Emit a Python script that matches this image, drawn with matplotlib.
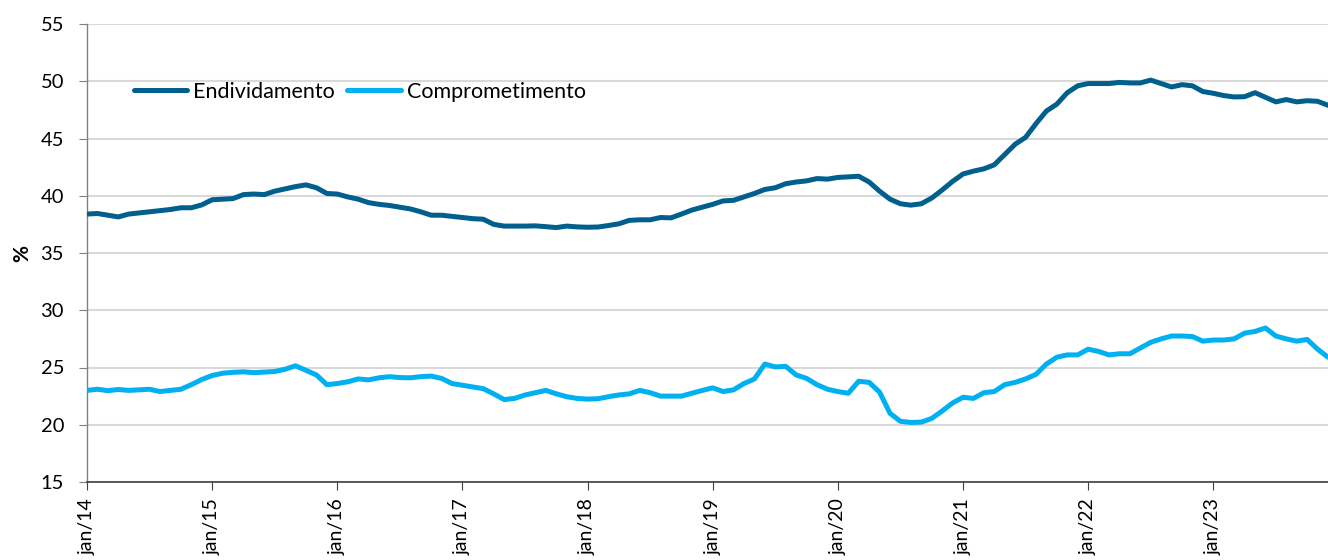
import matplotlib
matplotlib.use("Agg")
import matplotlib.pyplot as plt
import numpy as np

plt.rcParams['font.family'] = ['Lato', 'DejaVu Sans']

tick_labels = ["jan/14", "jan/15", "jan/16", "jan/17", "jan/18",
               "jan/19", "jan/20", "jan/21", "jan/22", "jan/23"]

endividamento = [
    38.4, 38.45, 38.3, 38.15, 38.4, 38.5, 38.6, 38.7, 38.8, 38.95, 38.95, 39.2,
    39.65, 39.7, 39.75, 40.1, 40.15, 40.1, 40.4, 40.6, 40.8, 40.95, 40.7, 40.2,
    40.15, 39.9, 39.7, 39.4, 39.25, 39.15, 39.0, 38.85, 38.6, 38.3, 38.3, 38.2,
    38.1, 38.0, 37.95, 37.5, 37.35, 37.35, 37.35, 37.37, 37.3, 37.22, 37.35, 37.28,
    37.25, 37.27, 37.4, 37.55, 37.85, 37.9, 37.9, 38.1, 38.07, 38.4, 38.75, 39.0,
    39.25, 39.55, 39.6, 39.9, 40.2, 40.55, 40.7, 41.05, 41.2, 41.3, 41.5, 41.45,
    41.6, 41.65, 41.7, 41.2, 40.4, 39.7, 39.3, 39.18, 39.3, 39.8, 40.5, 41.25,
    41.9, 42.15, 42.35, 42.7, 43.6, 44.5, 45.1, 46.3, 47.4, 48.0, 49.0, 49.6,
    49.8, 49.8, 49.8, 49.9, 49.85, 49.85, 50.1, 49.8, 49.5, 49.7, 49.6, 49.1,
    48.95, 48.75, 48.63, 48.65, 49.0, 48.6, 48.2, 48.4, 48.2, 48.3, 48.25, 47.9,
]

comprometimento = [
    23.0, 23.1, 22.98, 23.08, 23.0, 23.05, 23.1, 22.9, 23.0, 23.1, 23.5, 23.95,
    24.3, 24.5, 24.58, 24.62, 24.55, 24.6, 24.65, 24.85, 25.15, 24.75, 24.35, 23.5,
    23.6, 23.75, 24.0, 23.92, 24.1, 24.2, 24.12, 24.1, 24.2, 24.25, 24.05, 23.6,
    23.45, 23.3, 23.15, 22.7, 22.2, 22.3, 22.6, 22.8, 23.0, 22.7, 22.45, 22.3,
    22.24, 22.27, 22.45, 22.6, 22.7, 23.0, 22.8, 22.5, 22.5, 22.5, 22.75, 23.0,
    23.22, 22.9, 23.05, 23.6, 24.0, 25.3, 25.05, 25.1, 24.35, 24.05, 23.5, 23.1,
    22.9, 22.75, 23.8, 23.7, 22.85, 21.0, 20.3, 20.2, 20.23, 20.55, 21.2, 21.9,
    22.4, 22.3, 22.8, 22.9, 23.5, 23.7, 24.0, 24.4, 25.3, 25.9, 26.1, 26.1,
    26.6, 26.4, 26.1, 26.2, 26.2, 26.7, 27.2, 27.5, 27.75, 27.75, 27.7, 27.3,
    27.4, 27.4, 27.5, 28.0, 28.15, 28.45, 27.75, 27.5, 27.3, 27.45, 26.6, 25.9,
]

x = np.arange(len(endividamento))

fig = plt.figure(figsize=(13.28, 5.6), dpi=100)
ax = fig.add_axes([87/1328, 1 - 482/560, 1 - 87/1328, (482 - 24)/560])

ax.plot(x, endividamento, color='#005F8C', lw=3.6, solid_capstyle='round',
        solid_joinstyle='round', label='Endividamento', zorder=3)
ax.plot(x, comprometimento, color='#00B0F0', lw=3.6, solid_capstyle='round',
        solid_joinstyle='round', label='Comprometimento', zorder=3)

ax.set_xlim(0, 119)
ax.set_ylim(15, 55)
ax.set_yticks(np.arange(15, 56, 5))
ax.yaxis.grid(True, color='#D9D9D9', lw=1.5, zorder=0)
ax.set_axisbelow(True)

ax.set_xticks(x[::12])
ax.set_xticklabels(tick_labels, rotation=90, va='top', ha='center')

for s in ['top', 'right']:
    ax.spines[s].set_visible(False)
ax.spines['left'].set_color('#808080')
ax.spines['bottom'].set_color('#404040')
ax.spines['left'].set_linewidth(1.0)
ax.spines['bottom'].set_linewidth(1.2)

ax.tick_params(axis='y', labelsize=14.5, length=6, color='#808080', pad=10.5,
               labelcolor='#000000')
ax.tick_params(axis='x', labelsize=14, length=5.5, color='#404040', pad=6)

ax.set_ylabel('%', fontsize=15, fontweight='bold', labelpad=6)

leg = ax.legend(loc='center left', bbox_to_anchor=(38/1241, 1 - (92 - 24) / 458),
                ncol=2, frameon=False, fontsize=15.5, handlelength=2.5,
                handletextpad=0.27, columnspacing=0.56, borderaxespad=0)

fig.savefig('out.png', dpi=100)
